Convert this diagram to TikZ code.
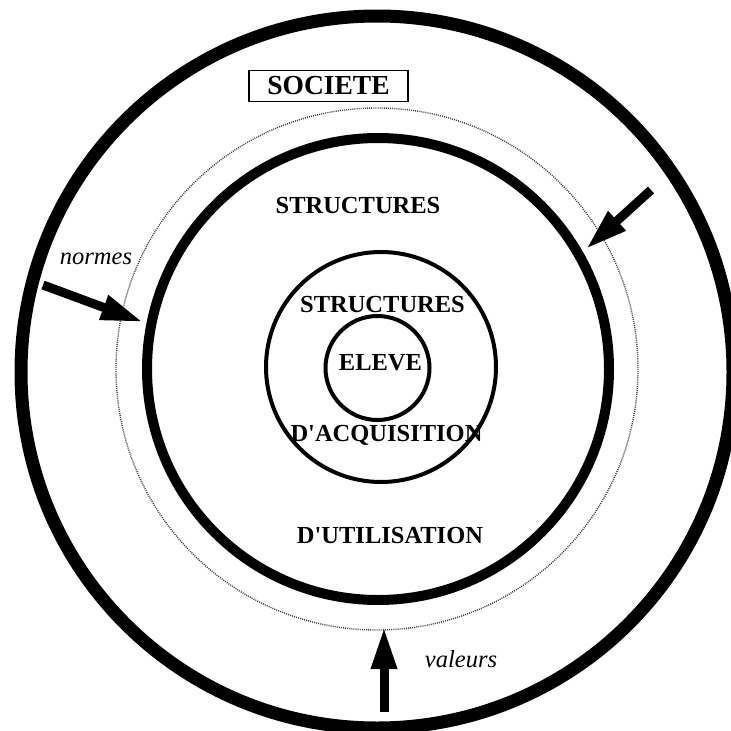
\documentclass[tikz,border=0pt]{standalone}
\usepackage{fontspec}
\setmainfont{Liberation Serif}
\usetikzlibrary{arrows.meta}
\begin{document}
\begin{tikzpicture}[x=1pt,y=-1pt,
  ring/.style={draw=black,line width=#1},
  dotring/.style={draw=black!75,line width=1.4pt,dash pattern=on 1pt off 1.1pt},
  label/.style={font=\fontsize{24.5}{28}\selectfont\bfseries,anchor=base,inner sep=0pt},
  note/.style={font=\fontsize{24.5}{28}\selectfont\itshape,anchor=base,inner sep=0pt},
  bigarrow/.style={line width=9pt,-{Triangle[length=42pt,width=24pt]}}]
  \useasboundingbox (0,0) rectangle (731,731);
  \clip (0,0) rectangle (731,731);
  % nested circles
  \draw[ring=13pt] (377,372) circle[radius=356];
  \draw[dotring] (377,369) circle[radius=261];
  \draw[ring=10pt] (378,369) circle[radius=231];
  \draw[ring=4pt] (381,367) circle[radius=115];
  \draw[ring=4pt] (377.5,368) circle[radius=52];
  % titles
  \node[draw,line width=1.2pt,minimum width=159pt,minimum height=31pt,inner sep=0pt,
        font=\fontsize{27.5}{30}\selectfont\bfseries] (soc) at (328.5,86) {SOCIETE};
  \node[label] (s1) at (358,213) {STRUCTURES};
  \node[label] (s2) at (382.5,312) {STRUCTURES};
  \node[label] (el) at (380.5,370) {ELEVE};
  \node[label] (acq) at (386.5,441) {D\textquotesingle ACQUISITION};
  \node[label] (uti) at (390,543) {D\textquotesingle UTILISATION};
  \node[note] (nor) at (96,264) {normes};
  \node[note] (val) at (461,667) {valeurs};
  % arrows pointing inwards
  \coordinate (la) at (43,285);
  \coordinate (lb) at (143,322);
  \coordinate (ra) at (651,190);
  \coordinate (rb) at (586,249);
  \coordinate (ba) at (384,712);
  \coordinate (bb) at (384,627);
  \draw[bigarrow] (la) -- (lb);
  \draw[bigarrow] (ra) -- (rb);
  \draw[bigarrow] (ba) -- (bb);
\end{tikzpicture}
\end{document}
